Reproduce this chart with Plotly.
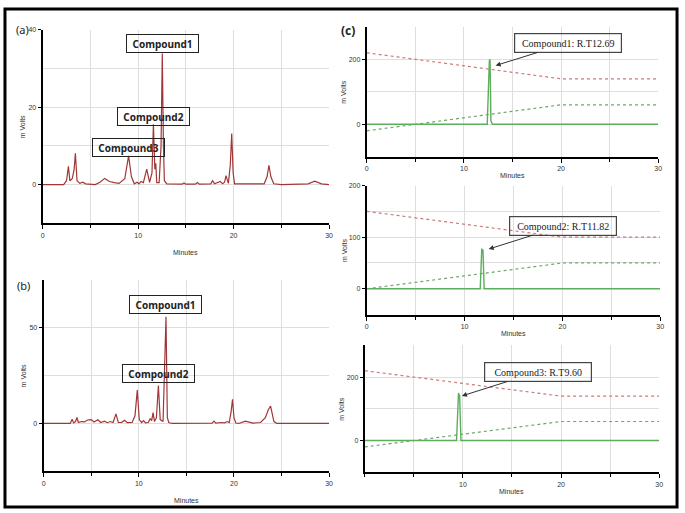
import plotly.graph_objects as go

# ---------------- data ----------------
# Panel (a): chromatogram (minutes, mV)
a_time = [0, 2.2, 2.5, 2.7, 2.85, 3.1, 3.3, 3.43, 3.6, 3.9, 4.2, 4.5, 5.5, 6.0, 6.5, 7.0, 7.5, 8.0,
          8.6, 9.0, 9.3, 9.6, 9.9, 10.1, 10.3, 10.55, 10.9, 11.2, 11.45, 11.6, 11.75, 11.85, 11.95,
          12.2, 12.4, 12.53, 12.65, 12.75, 13.0, 14.6, 14.8, 15.0, 16.0, 16.2, 16.4, 17.6, 17.8, 18.0,
          18.6, 18.85, 19.05, 19.2, 19.45, 19.65, 19.8, 19.95, 20.1, 23.2, 23.5, 23.7, 23.9, 24.2,
          25.0, 27.8, 28.5, 29.2, 30]
a_mv = [0, 0, 1.0, 4.7, 1.0, 1.5, 4.0, 8.1, 1.0, 0.3, 0.6, 0.2, 0.0, 0.6, 1.6, 0.8, 0.5, 0.3,
        1.5, 7.4, 2.0, 0.2, 0.6, 0.2, 0.8, 0.5, 4.0, 0.6, 3.0, 15.6, 4.0, 5.5, 0.5,
        0.5, 10.0, 33.9, 10.0, 1.0, 0.2, 0.1, 0.4, 0.1, 0.1, 0.5, 0.1, 0.2, 1.0, 0.2,
        0.8, 0.2, 0.6, 2.3, 0.3, 5.0, 13.2, 3.0, 0.2, 0.2, 2.0, 5.0, 2.0, 0.2,
        0.0, 0.2, 0.9, 0.2, 0.0]

# Panel (b): chromatogram (minutes, mV)
b_time = [0, 2.8, 3.0, 3.15, 3.35, 3.5, 3.65, 4.0, 4.3, 4.6, 5.0, 5.3, 5.7, 6.0, 6.4, 6.7, 7.0, 7.3,
          7.6, 7.85, 8.2, 8.5, 8.8, 9.3, 9.6, 9.84, 10.05, 10.3, 10.5, 10.7, 11.0, 11.2, 11.35,
          11.5, 11.65, 11.85, 12.06, 12.25, 12.55, 12.86, 13.0, 13.15, 13.5, 17.7, 17.9, 18.1,
          18.7, 19.0, 19.3, 19.5, 19.7, 19.85, 20.0, 20.2, 20.5, 21.2, 22.0, 22.8, 23.3, 23.6,
          23.85, 24.0, 24.2, 24.5, 30]
b_mv = [0, 0, 2.2, 0.3, 1.0, 3.1, 0.5, 1.0, 0.8, 1.8, 2.0, 0.8, 1.9, 0.5, 1.2, 0.4, 1.0, 0.5,
        5.0, 0.5, 0.6, 1.7, 0.4, 0.5, 4.0, 17.4, 2.0, 0.5, 1.5, 0.3, 0.5, 2.6, 1.5,
        5.7, 1.0, 3.0, 19.8, 2.0, 1.0, 55.7, 3.0, 0.5, 0.0, 0.2, 1.2, 0.2,
        0.5, 0.3, 1.0, 0.5, 6.0, 12.6, 3.0, 0.2, 0.0, 1.2, 0.2, 0.5, 3.0, 7.0,
        9.1, 6.0, 1.0, 0.0, 0.0]

# Panel (c): single-compound chromatograms and gradient profiles
c1_time = [0, 12.4, 12.62, 12.69, 12.78, 12.95, 30]
c1_mv = [0, 0, 195, 200, 10, 0, 0]
c2_time = [0, 11.6, 11.76, 11.82, 11.88, 12.0, 30]
c2_mv = [0, 0, 78, 70, 76, 0, 0]
c3_time = [0, 9.35, 9.55, 9.6, 9.66, 9.8, 30]
c3_mv = [0, 0, 150, 138, 145, 0, 0]

grad_time = [0, 20, 30]
c1_grad_red = [220, 140, 140]
c1_grad_green = [-20, 60, 60]
c2_grad_red = [150, 100, 100]
c2_grad_green = [0, 50, 50]
c3_grad_red = [220, 140, 140]
c3_grad_green = [-20, 60, 60]

compound_labels_a = ["Compound1", "Compound2", "Compound3"]
compound_labels_b = ["Compound1", "Compound2"]
c_labels = ["Compound1: R.T12.69", "Compound2: R.T11.82", "Compound3: R.T9.60"]

# ---------------- layout helpers ----------------
W, H = 685, 513
def px(x):
    return x / W
def py(y):
    return 1 - y / H

RED = "#a13636"
GREEN = "#5cae5c"
GRID = "#dedede"
TICKFONT = dict(family="Liberation Sans", size=7, color="#333333")

fig = go.Figure()

def line(x, y, ax, color, width=1.3, dash=None):
    fig.add_trace(go.Scatter(x=x, y=y, mode="lines", xaxis="x" + ax, yaxis="y" + ax,
                             line=dict(color=color, width=width, dash=dash),
                             showlegend=False, hoverinfo="skip"))

line(a_time, a_mv, "", RED, 1.2)
line(b_time, b_mv, "2", RED, 1.2)
for ax, t, v, r, g in [("3", c1_time, c1_mv, c1_grad_red, c1_grad_green),
                       ("4", c2_time, c2_mv, c2_grad_red, c2_grad_green),
                       ("5", c3_time, c3_mv, c3_grad_red, c3_grad_green)]:
    line(grad_time, r, ax, "#c97a7a", 1.2, "dot")
    line(grad_time, g, ax, "#6aa86a", 1.2, "dot")
    line(t, v, ax, GREEN, 1.4)

def xaxis(dom, anchor, tickvals=None):
    d = dict(domain=dom, anchor=anchor, range=[0, 30], showgrid=True, gridcolor=GRID, gridwidth=1,
             showline=True, linecolor="black", linewidth=2, ticks="outside", ticklen=4,
             tickcolor="black", tickfont=TICKFONT, zeroline=False, fixedrange=True,
             minor=dict(dtick=5, showgrid=True, gridcolor=GRID, ticks="outside", ticklen=3,
                        tickcolor="black"))
    if tickvals is None:
        d.update(tickmode="linear", tick0=0, dtick=10)
    else:
        d.update(tickmode="array", tickvals=tickvals)
    return d

def yaxis(dom, anchor, rng, dtick, mdtick):
    return dict(domain=dom, anchor=anchor, range=rng, tickmode="linear", tick0=0, dtick=dtick,
                showgrid=True, gridcolor=GRID, showline=True, linecolor="black", linewidth=2,
                ticks="outside", ticklen=3, tickcolor="black", tickfont=TICKFONT,
                zeroline=False, fixedrange=True,
                minor=dict(tick0=0, dtick=mdtick, showgrid=True, gridcolor=GRID))

panels = {
    "":  dict(x=(41, 330), y=(26, 221), yr=[-10, 40], dt=20, mdt=10),
    "2": dict(x=(42, 330), y=(278, 471), yr=[-25, 75], dt=50, mdt=25),
    "3": dict(x=(368, 662), y=(23, 154), yr=[-100, 300], dt=200, mdt=100),
    "4": dict(x=(368, 664), y=(183, 313), yr=[-50, 200], dt=100, mdt=50),
    "5": dict(x=(366, 663), y=(344, 472), yr=[-100, 300], dt=200, mdt=100),
}

layout = dict(width=W, height=H, margin=dict(l=0, r=0, t=0, b=0),
              paper_bgcolor="white", plot_bgcolor="white", showlegend=False)
annotations = []
C = dict(xanchor="center", yanchor="middle")
for key, p in panels.items():
    xdom = [px(p["x"][0]), px(p["x"][1])]
    ydom = [py(p["y"][1]), py(p["y"][0])]
    layout["xaxis" + key] = xaxis(xdom, "y" + key, [10, 20, 30] if key == "5" else None)
    layout["yaxis" + key] = yaxis(ydom, "x" + key, p["yr"], p["dt"], p["mdt"])
    # axis titles
    xc = (p["x"][0] + p["x"][1]) / 2
    annotations.append(dict(text="Minutes", xref="paper", yref="paper", x=px(xc),
                            y=py(p["y"][1] + 29 if key in ("", "2") else p["y"][1] + 19),
                            showarrow=False, font=dict(family="Liberation Sans", size=7, color="#333"), **C))
    yc = (p["y"][0] + p["y"][1]) / 2
    annotations.append(dict(text="m Volts", xref="paper", yref="paper",
                            x=px(p["x"][0] - 20 if key in ("", "2") else p["x"][0] - 23),
                            y=py(yc), textangle=-90, showarrow=False,
                            font=dict(family="Liberation Sans", size=7, color="#333"), **C))

# panel letters
for txt, x, y, bold in [("(a)", 21, 26, False), ("(b)", 22, 284, False), ("(c)", 349, 27, True)]:
    annotations.append(dict(text=("<b>%s</b>" % txt) if bold else txt, xref="paper", yref="paper",
                            x=px(x), y=py(y), showarrow=False,
                            font=dict(family="Noto Sans", size=11 if not bold else 12, color="#222"), **C))

# compound boxes in (a) and (b)
box_pos_a = [(162, 39.5), (153, 113.5), (127.5, 145)]
box_pos_b = [(164.5, 303), (158, 372.5)]
for lab, (x, y) in list(zip(compound_labels_a, box_pos_a)) + list(zip(compound_labels_b, box_pos_b)):
    annotations.append(dict(text="<b>%s</b>" % lab, xref="paper", yref="paper", x=px(x), y=py(y),
                            showarrow=False, width=69, height=15, bordercolor="#222", borderwidth=1,
                            borderpad=1, font=dict(family="Noto Sans", size=10, color="#222"), **C))

# annotations with arrows in (c)
c_boxes = [((570.5, 39.5), (498, 62)), ((565.5, 223.5), (491, 247)), ((540, 371), (464, 395))]
for lab, ((bx, by), (hx, hy)) in zip(c_labels, c_boxes):
    annotations.append(dict(text=lab, xref="paper", yref="paper", x=px(hx), y=py(hy),
                            ax=bx - hx, ay=by - hy, showarrow=True, arrowhead=2, arrowsize=1,
                            arrowwidth=1, arrowcolor="#333", width=104, height=16,
                            bordercolor="#444", borderwidth=1.2, borderpad=1, bgcolor="rgba(0,0,0,0)",
                            font=dict(family="Liberation Serif", size=10, color="#222")))

layout["annotations"] = annotations
layout["shapes"] = [dict(type="rect", xref="paper", yref="paper", x0=px(3), x1=px(681),
                         y0=py(507), y1=py(5), line=dict(color="black", width=3))]
fig.update_layout(**layout)
fig.write_html("out.html", config={"displayModeBar": False},
               post_script="document.body.style.margin='0px';document.body.style.overflow='hidden';")
